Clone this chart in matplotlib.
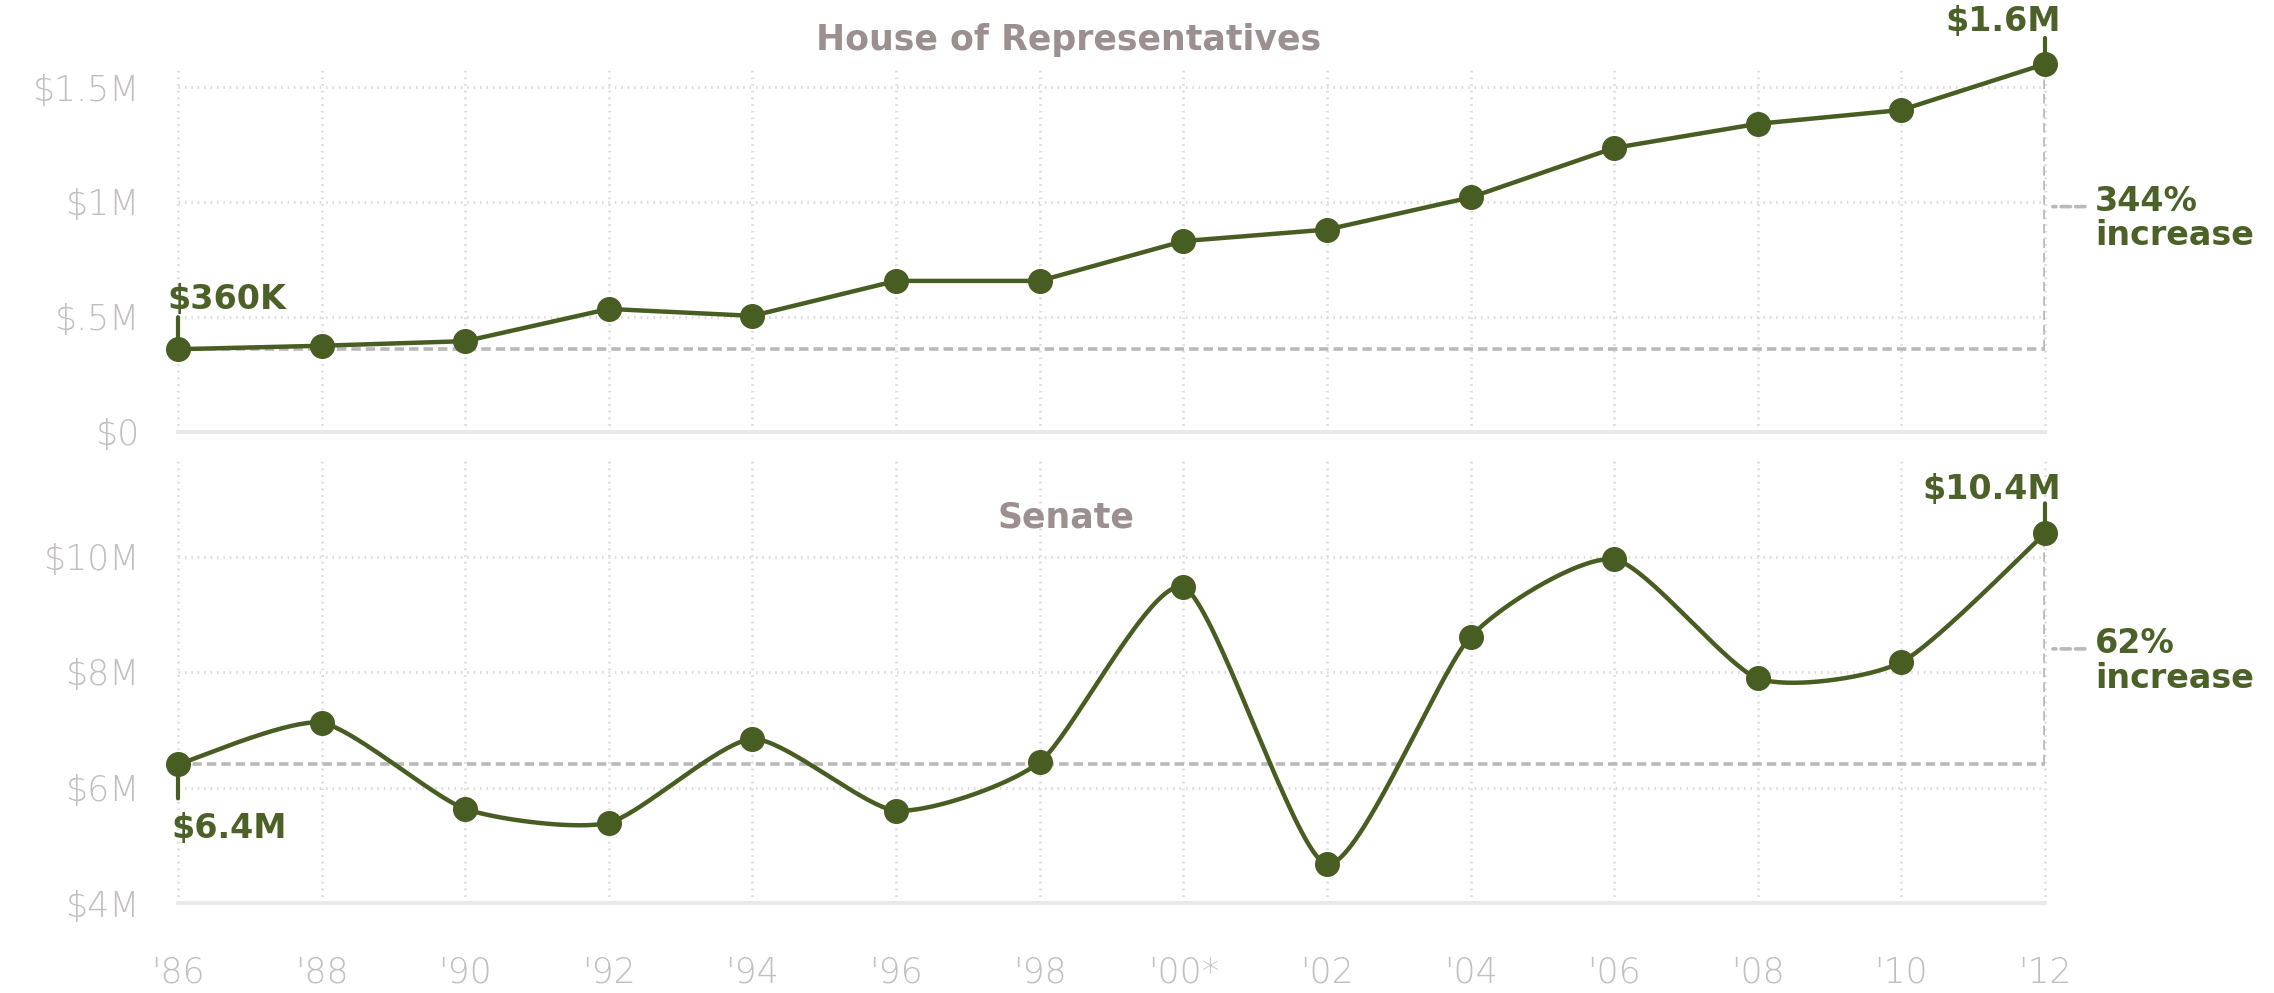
import numpy as np
import matplotlib
matplotlib.use("Agg")
import matplotlib.pyplot as plt

# Average cost of winning a seat, by election year
years = [1986, 1988, 1990, 1992, 1994, 1996, 1998, 2000, 2002, 2004, 2006, 2008, 2010, 2012]
year_labels = ["'86", "'88", "'90", "'92", "'94", "'96", "'98", "'00*", "'02", "'04", "'06", "'08", "'10", "'12"]

house = [0.36, 0.375, 0.395, 0.535, 0.505, 0.657, 0.657, 0.83, 0.88, 1.02, 1.235, 1.34, 1.40, 1.6]   # $M
senate = [6.4, 7.12, 5.63, 5.39, 6.84, 5.6, 6.44, 9.47, 4.67, 8.61, 9.95, 7.89, 8.17, 10.4]         # $M

house_ticks = [0, 0.5, 1, 1.5]
house_tick_labels = ["$0", "$.5M", "$1M", "$1.5M"]
senate_ticks = [4, 6, 8, 10]
senate_tick_labels = ["$4M", "$6M", "$8M", "$10M"]

house_first, house_last = "$360K", "$1.6M"
senate_first, senate_last = "$6.4M", "$10.4M"
house_change = "344%\nincrease"
senate_change = "62%\nincrease"

GREEN = "#485d22"
TEXT_GREEN = "#4b6127"
GRID = "#dcdcdc"
TICK = "#c4bfbf"
TITLE = "#9b8f8f"
DASH = "#b9b9b9"
FONT = "DejaVu Sans"
TICK_SIZE = 25
LABEL_SIZE = 24


def cardinal(x, y, tension=0.35, steps=40):
    # cardinal spline through the points (end points doubled, like d3.curveCardinal)
    p = np.column_stack([x, y]).astype(float)
    p = np.vstack([p[:1], p, p[-1:]])
    k = (1 - tension) / 6
    u = np.linspace(0, 1, steps)[1:, None]
    out = [p[1:2]]
    for i in range(1, len(p) - 2):
        p0, p1, p2, p3 = p[i - 1], p[i], p[i + 1], p[i + 2]
        c1 = p1 + k * (p2 - p0)
        c2 = p2 - k * (p3 - p1)
        out.append((1 - u) ** 3 * p1 + 3 * (1 - u) ** 2 * u * c1
                   + 3 * (1 - u) * u ** 2 * c2 + u ** 3 * p2)
    curve = np.vstack(out)
    return curve[:, 0], curve[:, 1]


def setup(ax, ticks, tick_labels, ymin, ymax):
    ax.set_xlim(years[0], years[-1])
    ax.set_ylim(ymin, ymax)
    for side in ax.spines.values():
        side.set_visible(False)
    ax.set_yticks(ticks)
    ax.set_yticklabels(tick_labels, fontsize=TICK_SIZE, color=TICK, family=FONT, weight=200)
    ax.tick_params(axis="y", length=0, pad=28)
    ax.tick_params(axis="x", length=0, pad=38)
    for yr in years:
        ax.plot([yr, yr], [ymin, ymax], color=GRID, lw=2, ls=(0, (0.6, 1.8)), zorder=0, clip_on=False)
    for v in ticks[1:]:
        ax.plot([years[0], years[-1]], [v, v], color=GRID, lw=2.2, ls=(0, (0.5, 1.6)), zorder=0)
    ax.plot([years[0], years[-1]], [ticks[0], ticks[0]], color="#e9e9e9", lw=3, zorder=0, clip_on=False)


def change_marks(ax, values, text):
    y0, y1 = values[0], values[-1]
    ax.plot([years[0], years[-1]], [y0, y0], color=DASH, lw=2.6, ls=(0, (2.6, 1.4)), zorder=1)
    ax.plot([years[-1], years[-1]], [y0, y1], color=DASH, lw=2.6, ls=(0, (2.6, 1.4)), zorder=1)
    mid = (y0 + y1) / 2
    ax.annotate("", xy=(years[-1] + 0.11, mid), xytext=(32, 0), textcoords="offset pixels",
                annotation_clip=False,
                arrowprops=dict(arrowstyle="-", color=DASH, lw=2.6, ls=(0, (2.6, 1.4)),
                                shrinkA=0, shrinkB=0))
    ax.annotate(text, xy=(years[-1], mid), xytext=(50, -12), textcoords="offset pixels",
                ha="left", va="center", fontsize=LABEL_SIZE, fontweight="bold", color=TEXT_GREEN,
                family=FONT, linespacing=1.05, annotation_clip=False)


def end_label(ax, x, y, text, dx, dy, tick, ha):
    ax.annotate("", xy=(x, y), xytext=(0, tick), textcoords="offset pixels",
                arrowprops=dict(arrowstyle="-", color=GREEN, lw=3, shrinkA=0, shrinkB=0),
                annotation_clip=False)
    ax.annotate(text, xy=(x, y), xytext=(dx, dy), textcoords="offset pixels",
                ha=ha, va="center", fontsize=LABEL_SIZE, fontweight="bold", color=TEXT_GREEN,
                family=FONT, annotation_clip=False)


fig = plt.figure(figsize=(22.74, 9.93), dpi=100, facecolor="white")
W, H = 2274, 993
x0, x1 = 178, 2045

# House of Representatives
ax1 = fig.add_axes([x0 / W, 1 - 432 / H, (x1 - x0) / W, (432 - 68) / H])
setup(ax1, house_ticks, house_tick_labels, 0, (432 - 68) / 230)
ax1.set_xticks(years)
ax1.set_xticklabels([])
change_marks(ax1, house, house_change)
ax1.plot(years, house, color=GREEN, lw=3.2, marker="o", ms=17, zorder=3, clip_on=False)
end_label(ax1, years[0], house[0], house_first, -11, 50, 32, "left")
end_label(ax1, years[-1], house[-1], house_last, 16, 42, 26, "right")
fig.text(1069 / W, 1 - 40 / H, "House of Representatives", ha="center", va="center",
         fontsize=LABEL_SIZE + 1, fontweight="bold", color=TITLE, family=FONT)

# Senate
ax2 = fig.add_axes([x0 / W, 1 - 903 / H, (x1 - x0) / W, (903 - 460) / H])
setup(ax2, senate_ticks, senate_tick_labels, 4, 4 + (903 - 460) / 57.75)
ax2.set_xticks(years)
ax2.set_xticklabels(year_labels, fontsize=TICK_SIZE, color=TICK, family=FONT, weight=200)
change_marks(ax2, senate, senate_change)
cx, cy = cardinal(years, senate)
ax2.plot(cx, cy, color=GREEN, lw=3.2, zorder=3, clip_on=False)
ax2.plot(years, senate, "o", color=GREEN, ms=17, zorder=4, clip_on=False)
end_label(ax2, years[0], senate[0], senate_first, -7, -64, -34, "left")
end_label(ax2, years[-1], senate[-1], senate_last, 16, 44, 30, "right")
fig.text(1066 / W, 1 - 518 / H, "Senate", ha="center", va="center",
         fontsize=LABEL_SIZE + 1, fontweight="bold", color=TITLE, family=FONT)

fig.savefig("out.png", dpi=100, facecolor="white")
